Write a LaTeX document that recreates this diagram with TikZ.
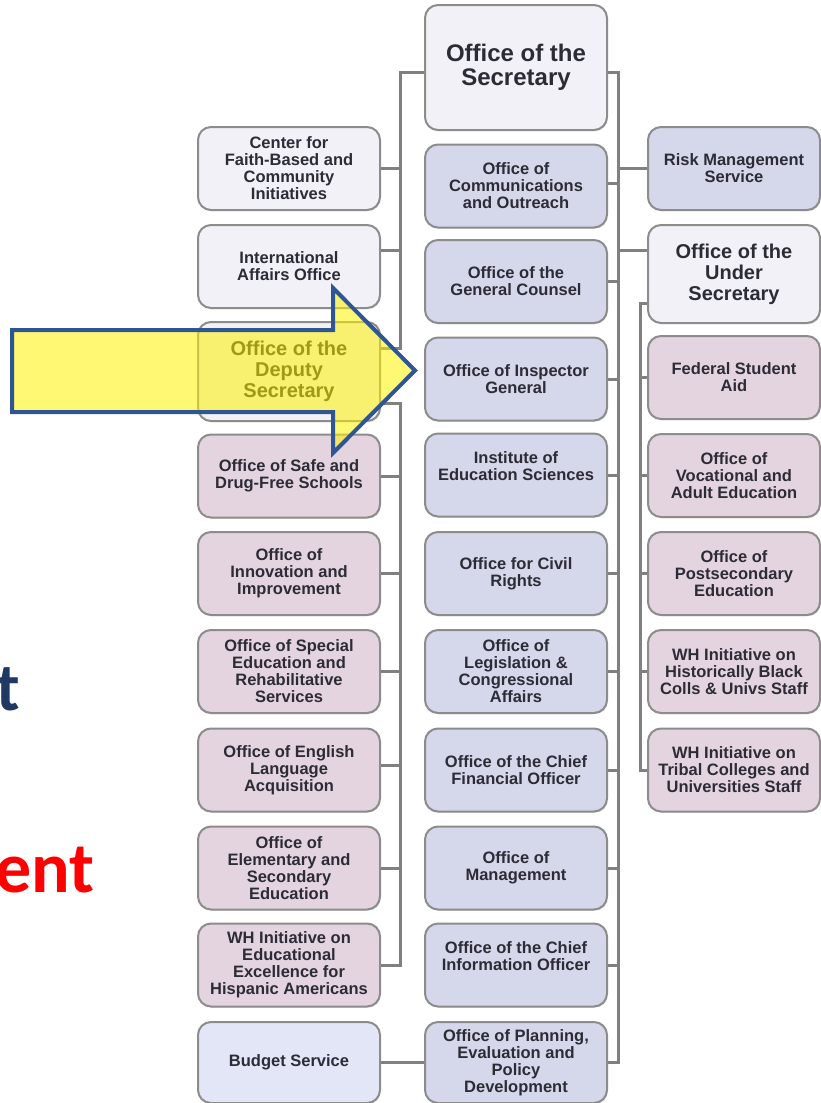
\documentclass[tikz,border=0pt]{standalone}
\usepackage{fontspec}
\setmainfont{Liberation Sans}
\newfontfamily\carl{Carlito}
\usetikzlibrary{shadows}
\definecolor{bord}{HTML}{8C8C8C}
\definecolor{connc}{HTML}{808080}
\definecolor{fwhite}{HTML}{F1F1F7}
\definecolor{fblue}{HTML}{D5D7EA}
\definecolor{fpink}{HTML}{E4D4E0}
\definecolor{fbudget}{HTML}{E2E6F7}
\definecolor{txt}{HTML}{2C2C36}
\definecolor{arrblue}{HTML}{2F5592}
\definecolor{titleblue}{HTML}{1F3864}
\tikzset{
  box/.style={draw=bord, line width=2pt, rounded corners=13pt, align=center,
    inner sep=2pt, text=txt, font=\fontsize{16.5}{17}\selectfont\bfseries,
    drop shadow={shadow xshift=0.8pt, shadow yshift=-1.2pt, opacity=0.25}},
  lbox/.style={box, minimum width=182, minimum height=83},
  cbox/.style={box, minimum width=182, minimum height=83, fill=fblue},
  rbox/.style={box, minimum width=172, minimum height=83},
  wire/.style={draw=connc, line width=3pt},
  bigtitle/.style={font=\fontsize{20}{21}\selectfont\bfseries}
}
\begin{document}
\begin{tikzpicture}[x=1pt,y=-1pt]
\useasboundingbox (0,0) rectangle (821,1103);
\clip (0,0) rectangle (821,1103);
% left column
\node[lbox, fill=fwhite] (faith) at (289,168.5) {Center for\\Faith-Based and\\Community\\Initiatives};
\node[lbox, fill=fwhite] (intl) at (289,266.5) {International\\Affairs Office};
\node[lbox, fill=fwhite, minimum height=99, bigtitle] (dep) at (289,371.5) {Office of the\\Deputy\\Secretary};
\node[lbox, fill=fpink] (safe) at (289,476) {Office of Safe and\\Drug-Free Schools};
\node[lbox, fill=fpink] (innov) at (289,573.5) {Office of\\Innovation and\\Improvement};
\node[lbox, fill=fpink] (spec) at (289,671.5) {Office of Special\\Education and\\Rehabilitative\\Services};
\node[lbox, fill=fpink] (eng) at (289,770) {Office of English\\Language\\Acquisition};
\node[lbox, fill=fpink] (elem) at (289,868) {Office of\\Elementary and\\Secondary\\Education};
\node[lbox, fill=fpink] (hisp) at (289,965) {WH Initiative on\\Educational\\Excellence for\\Hispanic Americans};
\node[lbox, fill=fbudget, minimum height=81] (budget) at (289,1062.5) {Budget Service};
% centre column
\node[box, fill=fwhite, minimum width=182, minimum height=125, font=\fontsize{24}{24}\selectfont\bfseries] (sec) at (516,67.5) {Office of the\\Secretary};
\node[cbox] (comm) at (516,186) {Office of\\Communications\\and Outreach};
\node[cbox] (gen) at (516,281.5) {Office of the\\General Counsel};
\node[cbox] (insp) at (516,379) {Office of Inspector\\General};
\node[cbox] (inst) at (516,475) {Institute of\\Education Sciences\\\mbox{}};
\node[cbox] (civil) at (516,573.5) {Office for Civil\\Rights};
\node[cbox] (legis) at (516,671.5) {Office of\\Legislation \&\\Congressional\\Affairs};
\node[cbox] (cfo) at (516,770) {Office of the Chief\\Financial Officer};
\node[cbox] (mgmt) at (516,868) {Office of\\Management};
\node[cbox] (cio) at (516,965) {Office of the Chief\\Information Officer\\\mbox{}};
\node[cbox, minimum height=81] (plan) at (516,1062.5) {Office of Planning,\\Evaluation and\\Policy\\Development};
% right column
\node[rbox, fill=fblue] (risk) at (734,168.5) {Risk Management\\Service};
\node[rbox, fill=fwhite, minimum height=98, bigtitle] (under) at (734,274) {Office of the\\Under\\Secretary};
\node[rbox, fill=fpink] (fsa) at (734,377.5) {Federal Student\\Aid};
\node[rbox, fill=fpink] (voc) at (734,475.5) {Office of\\Vocational and\\Adult Education};
\node[rbox, fill=fpink] (post) at (734,573.5) {Office of\\Postsecondary\\Education};
\node[rbox, fill=fpink] (hbcu) at (734,671.5) {WH Initiative on\\Historically Black\\Colls \& Univs Staff};
\node[rbox, fill=fpink] (tribal) at (734,770) {WH Initiative on\\Tribal Colleges and\\Universities Staff};
% trunk positions
\coordinate (lt) at (400,0);
\coordinate (ct) at (618,0);
\coordinate (rt) at (640,0);
\coordinate (secL) at ([yshift=-4.5pt]sec.west);
\coordinate (secR) at ([yshift=-4.5pt]sec.east);
\coordinate (depU) at ([yshift=23.5pt]dep.east);
\coordinate (depD) at ([yshift=-31.5pt]dep.east);
\coordinate (intlC) at ([yshift=16.5pt]intl.east);
\coordinate (engC) at ([yshift=5pt]eng.east);
\coordinate (commC) at ([yshift=3pt]comm.east);
\coordinate (underC) at ([yshift=24pt]under.west);
\coordinate (underD) at ([yshift=-29pt]under.west);
% connectors
\draw[wire] (secL) -- (secL -| lt) |- (depU);
\draw[wire] (faith.east) -- (faith.east -| lt);
\draw[wire] (intlC) -- (intlC -| lt);
\draw[wire] (depD) -- (depD -| lt) |- (hisp.east);
\foreach \n in {safe,innov,spec,elem} \draw[wire] (\n.east) -- (\n.east -| lt);
\draw[wire] (engC) -- (engC -| lt);
\draw[wire] (secR) -- (secR -| ct) |- (plan.east);
\draw[wire] (commC) -- (commC -| ct);
\foreach \n in {gen,insp,inst,civil,legis,cfo,mgmt,cio} \draw[wire] (\n.east) -- (\n.east -| ct);
\draw[wire] (risk.west) -- (risk.west -| ct);
\draw[wire] (underC) -- (underC -| ct);
\draw[wire] (underD) -- (underD -| rt) |- (tribal.west);
\foreach \n in {fsa,voc,post,hbcu} \draw[wire] (\n.west) -- (\n.west -| rt);
\draw[wire] (budget) -- (plan);
% highlight arrow
\draw[draw=arrblue, line width=4pt, fill=yellow, fill opacity=0.55, miter limit=10]
  (12,330) -- (333,330) -- (333,288) -- (415,370.5) -- (333,453) -- (333,412) -- (12,412) -- cycle;
% cut-off title fragments
\node[font=\carl\bfseries\fontsize{68}{68}\selectfont, text=titleblue, anchor=base east, inner sep=0] (tfrag) at (20,710) {t};
\node[font=\carl\bfseries\fontsize{72}{72}\selectfont, text=red, anchor=base east, inner sep=0] (entfrag) at (95,892) {ent};
\end{tikzpicture}
\end{document}
